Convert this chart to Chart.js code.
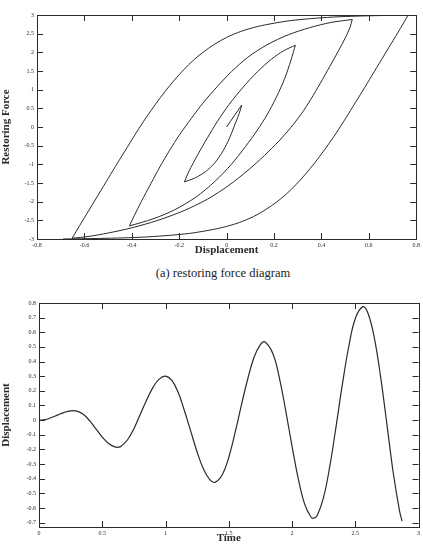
<!DOCTYPE html>
<html>
<head>
<meta charset="utf-8">
<script src="https://cdn.jsdelivr.net/npm/chart.js@4.4.1/dist/chart.umd.min.js"></script>
<style>
  body { margin: 0; background: #fff; width: 423px; height: 555px; position: relative; overflow: hidden; }
  #topChart { position: absolute; left: 0; top: 0; }
  #botChart { position: absolute; left: 0; top: 282px; }
  #caption { position: absolute; left: 0; top: 266px; width: 446px; text-align: center;
             font-family: "Liberation Serif", serif; font-size: 12.5px; color: #222; }
</style>
</head>
<body>
<canvas id="topChart" width="423" height="262"></canvas>
<div id="caption">(a) restoring force diagram</div>
<canvas id="botChart" width="423" height="273"></canvas>
<script>
// (a) restoring force vs displacement, points in time order
const hystDisp = [
  0, 0.032, 0.064,
  0.058, 0.047, 0.032, 0.012, -0.015, -0.05, -0.09, -0.135, -0.178,
  -0.16, -0.12, -0.08, -0.04, 0.01, 0.07, 0.13, 0.19, 0.24, 0.29,
  0.272, 0.245, 0.21, 0.17, 0.13, 0.08, 0.02, -0.05, -0.13, -0.22, -0.31, -0.41,
  -0.39, -0.36, -0.32, -0.28, -0.24, -0.2, -0.15, -0.1, -0.04, 0.02, 0.09, 0.17, 0.26, 0.35, 0.44, 0.53,
  0.52, 0.5, 0.47, 0.435, 0.395, 0.355, 0.315, 0.27, 0.22, 0.16, 0.09, 0.01, -0.08, -0.18, -0.29, -0.4, -0.5, -0.58, -0.652,
  -0.62, -0.58, -0.54, -0.5, -0.46, -0.42, -0.38, -0.34, -0.3, -0.26, -0.22, -0.18, -0.14, -0.1,
  -0.05, 0.0, 0.06, 0.13, 0.2, 0.27, 0.35, 0.45, 0.55, 0.65, 0.765,
  0.733, 0.693, 0.653, 0.613, 0.573, 0.533, 0.493, 0.453, 0.413, 0.373, 0.333, 0.293, 0.253,
  0.213, 0.163, 0.113, 0.053, -0.017, -0.087, -0.157, -0.237, -0.337, -0.437, -0.537, -0.69
];
const hystForce = [
  0, 0.3, 0.59,
  0.46, 0.26, 0.02, -0.3, -0.64, -0.96, -1.2, -1.37, -1.47,
  -1.2, -0.72, -0.28, 0.14, 0.6, 1.07, 1.48, 1.82, 2.04, 2.19,
  1.8, 1.3, 0.8, 0.32, -0.08, -0.52, -1.0, -1.46, -1.88, -2.22, -2.46, -2.65,
  -2.38, -2.0, -1.52, -1.05, -0.62, -0.22, 0.22, 0.64, 1.08, 1.48, 1.87, 2.2, 2.47, 2.66, 2.8, 2.88,
  2.66, 2.38, 2.02, 1.62, 1.17, 0.74, 0.35, -0.02, -0.38, -0.76, -1.16, -1.56, -1.93, -2.24, -2.5, -2.7, -2.84, -2.93, -2.98,
  -2.64, -2.22, -1.8, -1.38, -0.96, -0.55, -0.14, 0.25, 0.61, 0.95, 1.26, 1.54, 1.79, 2.0,
  2.22, 2.4, 2.56, 2.69, 2.78, 2.85, 2.9, 2.945, 2.97, 2.985, 2.99,
  2.64, 2.22, 1.8, 1.38, 0.96, 0.55, 0.14, -0.25, -0.61, -0.95, -1.26, -1.54, -1.79,
  -2.0, -2.22, -2.4, -2.56, -2.69, -2.78, -2.85, -2.9, -2.945, -2.97, -2.985, -3.0
];
const dispTicks = [-0.8, -0.6, -0.4, -0.2, 0, 0.2, 0.4, 0.6, 0.8];
const forceTicks = [-3, -2.5, -2, -1.5, -1, -0.5, 0, 0.5, 1, 1.5, 2, 2.5, 3];

// (b) displacement time history
const timeVals = [
  0, 0.05, 0.1, 0.15, 0.2, 0.25, 0.3, 0.35, 0.4, 0.45, 0.5, 0.55, 0.6, 0.63, 0.65, 0.7, 0.75,
  0.8, 0.85, 0.9, 0.95, 1.0, 1.05, 1.1, 1.15, 1.2, 1.25, 1.3, 1.35, 1.39, 1.45, 1.5, 1.55,
  1.6, 1.65, 1.7, 1.75, 1.785, 1.85, 1.9, 1.95, 2.0, 2.05, 2.1, 2.15, 2.17, 2.2, 2.25, 2.3,
  2.35, 2.4, 2.45, 2.5, 2.56, 2.6, 2.65, 2.7, 2.75, 2.8, 2.85, 2.87
];
const dispVals = [
  0, 0.004, 0.018, 0.036, 0.053, 0.063, 0.062, 0.04, -0.004, -0.06, -0.116, -0.16, -0.183, -0.185, -0.178, -0.134, -0.059,
  0.038, 0.135, 0.222, 0.28, 0.3, 0.271, 0.19, 0.064, -0.077, -0.218, -0.334, -0.406, -0.425, -0.371, -0.255, -0.086,
  0.103, 0.281, 0.429, 0.516, 0.535, 0.452, 0.289, 0.066, -0.177, -0.402, -0.574, -0.662, -0.67, -0.649, -0.526, -0.309,
  -0.034, 0.254, 0.508, 0.692, 0.775, 0.732, 0.566, 0.299, -0.027, -0.358, -0.62, -0.69
];
const timeTicks = [0, 0.5, 1, 1.5, 2, 2.5, 3];
const dispTicks2 = [-0.7, -0.6, -0.5, -0.4, -0.3, -0.2, -0.1, 0, 0.1, 0.2, 0.3, 0.4, 0.5, 0.6, 0.7, 0.8];

const ink = '#2a2a2a';
const serif = '"Liberation Serif", "DejaVu Serif", serif';

// inward tick marks on all four sides plus the frame
const frameTicks = {
  id: 'frameTicks',
  afterDraw(chart, args, opts) {
    const { ctx, chartArea: a, scales } = chart;
    const len = opts.len || 6;
    ctx.save();
    ctx.strokeStyle = ink;
    ctx.lineWidth = 1;
    ctx.beginPath();
    scales.x.ticks.forEach(t => {
      const px = Math.round(scales.x.getPixelForValue(t.value)) + 0.5;
      ctx.moveTo(px, a.bottom); ctx.lineTo(px, a.bottom - len);
      ctx.moveTo(px, a.top); ctx.lineTo(px, a.top + len);
    });
    scales.y.ticks.forEach(t => {
      const py = Math.round(scales.y.getPixelForValue(t.value)) + 0.5;
      ctx.moveTo(a.left, py); ctx.lineTo(a.left + len, py);
      ctx.moveTo(a.right, py); ctx.lineTo(a.right - len, py);
    });
    ctx.stroke();
    ctx.strokeRect(Math.round(a.left) + 0.5, Math.round(a.top) + 0.5,
                   Math.round(a.right - a.left), Math.round(a.bottom - a.top));
    ctx.restore();
  }
};

function fixedTicks(list) {
  return scale => { scale.ticks = list.map(v => ({ value: v })); };
}

function axis(min, max, list, title, size, titlePad) {
  return {
    type: 'linear', min, max,
    afterBuildTicks: fixedTicks(list),
    afterFit: size,
    grid: { display: false, drawTicks: false },
    border: { display: false },
    ticks: { color: ink, padding: 3, maxRotation: 0, autoSkip: false,
             font: { family: serif, size: 6 }, callback: v => String(v) },
    title: { display: true, text: title, color: ink, padding: titlePad,
             font: { family: serif, size: 11, weight: 'bold' } }
  };
}

// split the loading path into branches at each reversal so tips stay sharp
const hystPts = hystDisp.map((d, i) => ({ x: d, y: hystForce[i] }));
const cuts = [0];
for (let i = 1; i < hystPts.length - 1; i++) {
  if ((hystDisp[i] - hystDisp[i - 1]) * (hystDisp[i + 1] - hystDisp[i]) < 0) cuts.push(i);
}
cuts.push(hystPts.length - 1);
const branches = [];
for (let k = 0; k < cuts.length - 1; k++) {
  branches.push({
    data: hystPts.slice(cuts[k], cuts[k + 1] + 1),
    showLine: true, borderColor: ink, borderWidth: 1, pointRadius: 0, tension: 0.3
  });
}

new Chart(document.getElementById('topChart'), {
  type: 'scatter',
  data: { datasets: branches },
  options: {
    responsive: false, animation: false,
    layout: { padding: { left: 0, right: 3, top: 15, bottom: 0 } },
    plugins: { legend: { display: false }, tooltip: { enabled: false }, frameTicks: { len: 6 } },
    scales: {
      x: axis(-0.8, 0.8, dispTicks, 'Displacement', s => { s.height = 23; }, { top: 0, bottom: 5 }),
      y: axis(-3, 3, forceTicks, 'Restoring Force', s => { s.width = 37; }, { top: 0, bottom: 0 })
    }
  },
  plugins: [frameTicks]
});

new Chart(document.getElementById('botChart'), {
  type: 'scatter',
  data: {
    datasets: [{
      data: timeVals.map((t, i) => ({ x: t, y: dispVals[i] })),
      showLine: true, borderColor: ink, borderWidth: 1.2, pointRadius: 0, tension: 0.4
    }]
  },
  options: {
    responsive: false, animation: false,
    layout: { padding: { left: 0, right: 3, top: 21, bottom: 0 } },
    plugins: { legend: { display: false }, tooltip: { enabled: false }, frameTicks: { len: 6 } },
    scales: {
      x: axis(0, 3, timeTicks, 'Time', s => { s.height = 28; }, { top: 0, bottom: 10 }),
      y: axis(-0.73, 0.8, dispTicks2, 'Displacement', s => { s.width = 39; }, { top: 0, bottom: 0 })
    }
  },
  plugins: [frameTicks]
});
</script>
</body>
</html>
